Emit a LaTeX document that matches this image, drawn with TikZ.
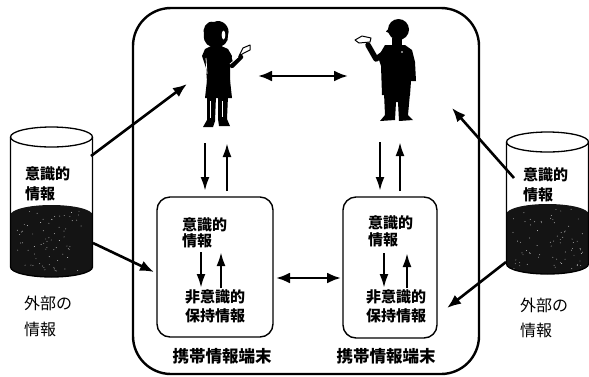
\documentclass[tikz,border=0pt]{standalone}
\usepackage{fontspec}
\newfontfamily\jp{Noto Sans CJK JP}
\usetikzlibrary{arrows.meta}
\begin{document}
\begin{tikzpicture}[x=1pt,y=-1pt,
  outerframe/.style={draw=black,line width=2.4pt,rounded corners=38pt},
  unitbox/.style={draw=black,line width=1.4pt,rounded corners=13pt},
  inlbl/.style={font=\jp\bfseries\fontsize{15}{15}\selectfont,inner sep=0pt},
  termlbl/.style={font=\jp\bfseries\fontsize{16.5}{16.5}\selectfont,inner sep=0pt},
  extlbl/.style={font=\jp\fontsize{16}{16}\selectfont,inner sep=0pt,anchor=west},
  arr/.style={line width=2.6pt,-{Latex[length=14pt,width=11pt]}},
  darr/.style={line width=2.6pt,{Latex[length=14pt,width=11pt]}-{Latex[length=14pt,width=11pt]}},
  vert/.style={line width=2.4pt,-{Latex[length=14pt,width=9pt]}},
  cyl/.style={draw=black,line width=1.3pt},
  liquid/.style={fill=black!92},
  fig/.style={fill=black},
  device/.style={fill=white,draw=black,line width=1pt,line join=round},
]
\useasboundingbox (0,0) rectangle (589,376);

% ---------- outer frame and the two handheld units ----------
\draw[outerframe] (133,8) rectangle (479,374);
\draw[unitbox] (157,197) rectangle (273,337);
\draw[unitbox] (343,197) rectangle (437,338);

% ---------- storage cylinders (external information) ----------
\pgfmathsetseed{7}
\foreach \cx/\ty/\ly/\by in {51.5/137/215/267, 547.5/142/214/264}{
  \fill[liquid] (\cx-41,\ly) arc[start angle=180,end angle=360,x radius=41,y radius=10]
     -- (\cx+41,\by) arc[start angle=0,end angle=180,x radius=41,y radius=10] -- cycle;
  \foreach \k in {1,...,70}{
    \pgfmathsetmacro\px{\cx+36*rand}
    \pgfmathsetmacro\py{(\ly+\by)/2+30*rand}
    \fill[white!60!gray] (\px,\py) circle[radius=0.45];
  }
  \draw[cyl] (\cx-41,\ty) -- (\cx-41,\by) arc[start angle=180,end angle=0,x radius=41,y radius=10]
     -- (\cx+41,\ty);
  \draw[cyl] (\cx,\ty) ellipse[x radius=41,y radius=10];
}

% ---------- woman ----------
\fill[fig] (214,22) .. controls (206,20) and (202,29) .. (204,35)
  .. controls (203,43) and (209,48) .. (216,47)
  .. controls (223,48) and (229,42) .. (228,35)
  .. controls (231,27) and (222,18) .. (214,22) -- cycle;
\fill[white] (223.5,35) ellipse[x radius=1.8,y radius=4.5];
\fill[fig] (213,45) -- (219,45) -- (228,49) -- (232,56) -- (230,66) -- (230,82)
  -- (207,82) -- (206,68) -- (202,56) -- (205,49) -- cycle;
\draw[black,line width=4.5pt,line cap=round,line join=round] (228,54) -- (232,66) -- (241,57);
\draw[white,line width=0.8pt] (230,64) -- (238,57);
\draw[white,line width=0.8pt] (206,58) -- (207,74);
\draw[device] (239,56) -- (243,48) -- (250,45) -- (250,50) -- (244,53) -- cycle;
\fill[fig] (207,80) -- (230,80) -- (232,98) -- (205,98) -- cycle;
\fill[fig] (207,96) -- (216,96) -- (215,121) -- (213,127) -- (203,127) -- (207,120) -- cycle;
\fill[fig] (218,96) -- (228,96) -- (227,119) -- (230,126) -- (219,126) -- (218,119) -- cycle;
\draw[white,line width=0.8pt] (210,101) -- (210,118);
\draw[white,line width=0.8pt] (222,101) -- (222,117);

% ---------- man ----------
\fill[fig] (392,38) rectangle (402,48);
\fill[fig] (385,45) -- (405,45) -- (412,50) -- (415,62) -- (416,81) -- (411,81)
  -- (410,95) -- (382,95) -- (381,66) -- (378,57) -- cycle;
\fill[fig] (384,93) -- (410,93) -- (408,115) -- (413,120) -- (399,121) -- (398,102)
  -- (396,102) -- (395,120) -- (380,121) -- (385,115) -- cycle;
\draw[black,line width=5.5pt,line cap=round,line join=round] (386,52) -- (376,59) -- (368,45);
\draw[device] (355,40) -- (362,36) -- (371,38) -- (370,42) -- (359,43) -- cycle;
\fill[white] (402,52) circle[radius=0.9];
\fill[fig] (398.5,29.5) circle[radius=10.5];
\fill[fig] (390,27) -- (386,31.5) -- (391,34) -- cycle;

% ---------- text ----------
\node[inlbl,anchor=west] (lc1) at (182,225) {意識的};
\node[inlbl,anchor=west] (lc2) at (182,241) {情報};
\node[inlbl] (ln1) at (215,297) {非意識的};
\node[inlbl] (ln2) at (215,316) {保持情報};
\node[inlbl,anchor=west] (rc1) at (368,223) {意識的};
\node[inlbl,anchor=west] (rc2) at (368,240) {情報};
\node[inlbl] (rn1) at (396,297) {非意識的};
\node[inlbl] (rn2) at (396,316) {保持情報};
\node[termlbl] (lt) at (222,356) {携帯情報端末};
\node[termlbl] (rt) at (386,356) {携帯情報端末};

\node[inlbl,anchor=west] (lk1) at (25,174) {意識的};
\node[inlbl,anchor=west] (lk2) at (25,194) {情報};
\node[inlbl,anchor=west] (rk1) at (523,175) {意識的};
\node[inlbl,anchor=west] (rk2) at (523,195) {情報};
\node[extlbl] (le1) at (24,303) {外部の};
\node[extlbl] (le2) at (24,329) {情報};
\node[extlbl] (re1) at (520,305) {外部の};
\node[extlbl] (re2) at (520,330) {情報};

% ---------- connector end points ----------
\coordinate (woman-r) at (258,76);
\coordinate (man-l) at (348,76);
\coordinate (woman-b1) at (205,143);
\coordinate (woman-b2) at (227,143);
\coordinate (man-b1) at (380,142);
\coordinate (man-b2) at (400,142);
\coordinate (lbox-t1) at (205,191);
\coordinate (lbox-t2) at (227,191);
\coordinate (rbox-t1) at (380,191);
\coordinate (rbox-t2) at (400,191);
\coordinate (lbox-r) at (276,278);
\coordinate (rbox-l) at (341,278);
\coordinate (lcyl-a) at (91,156);
\coordinate (lcyl-b) at (93,243);
\coordinate (rcyl-a) at (514,178);
\coordinate (rcyl-b) at (506,262);
\coordinate (woman-l) at (187,84);
\coordinate (lbox-l) at (154,272);
\coordinate (man-r) at (452,108);
\coordinate (rbox-r) at (447,308);
\coordinate (lin-d1) at (201,252);
\coordinate (lin-d2) at (201,288);
\coordinate (lin-u1) at (221,288);
\coordinate (lin-u2) at (221,252);
\coordinate (rin-d1) at (384,253);
\coordinate (rin-d2) at (384,288);
\coordinate (rin-u1) at (407,288);
\coordinate (rin-u2) at (407,253);

% ---------- connectors ----------
\draw[darr] (woman-r) -- (man-l);
\draw[vert] (woman-b1) -- (lbox-t1);
\draw[vert] (lbox-t2) -- (woman-b2);
\draw[vert] (man-b1) -- (rbox-t1);
\draw[vert] (rbox-t2) -- (man-b2);
\draw[darr] (lbox-r) -- (rbox-l);
\draw[arr] (lcyl-a) -- (woman-l);
\draw[arr] (lcyl-b) -- (lbox-l);
\draw[arr] (rcyl-a) -- (man-r);
\draw[arr] (rcyl-b) -- (rbox-r);
\draw[vert] (lin-d1) -- (lin-d2);
\draw[vert] (lin-u1) -- (lin-u2);
\draw[vert] (rin-d1) -- (rin-d2);
\draw[vert] (rin-u1) -- (rin-u2);
\end{tikzpicture}
\end{document}
